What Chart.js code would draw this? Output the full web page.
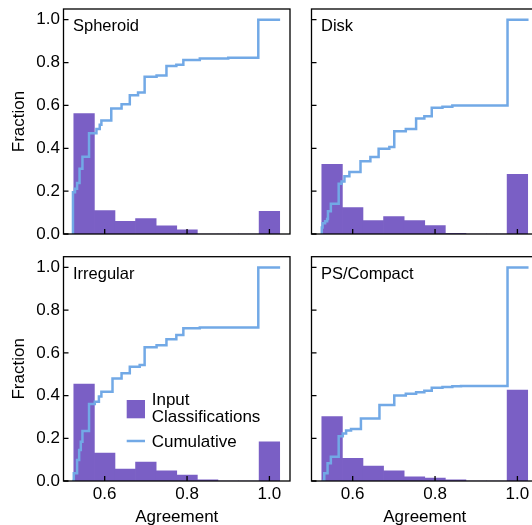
<!DOCTYPE html>
<html><head><meta charset="utf-8">
<script src="https://cdn.jsdelivr.net/npm/chart.js@4/dist/chart.umd.min.js"></script>
<style>
html,body{margin:0;padding:0;background:#fff;overflow:hidden;width:532px;height:525px;}
#wrap{position:relative;width:532px;height:525px;overflow:hidden;background:#fff;}
canvas{position:absolute;}
</style></head><body><div id="wrap">
<canvas id="c0"></canvas><canvas id="c1"></canvas><canvas id="c2"></canvas><canvas id="c3"></canvas>
</div>
<script>
// ---- data ----
const panelNames = ["Spheroid", "Disk", "Irregular", "PS/Compact"];
const binCenters = [0.55, 0.60, 0.65, 0.70, 0.75, 0.80, 0.85, 0.90, 0.95, 1.00];
const xTickValues = [0.6, 0.8, 1.0];
const yTickValues = [0.0, 0.2, 0.4, 0.6, 0.8, 1.0];
const legendLabels = [["Input", "Classifications"], ["Cumulative"]];

const spheroidHist  = [0.562, 0.109, 0.059, 0.072, 0.038, 0.019, 0, 0, 0, 0.106];
const diskHist      = [0.325, 0.123, 0.063, 0.081, 0.063, 0.039, 0.003, 0, 0, 0.278];
const irregularHist = [0.454, 0.131, 0.056, 0.089, 0.048, 0.028, 0.006, 0, 0, 0.183];
const compactHist   = [0.301, 0.106, 0.070, 0.048, 0.019, 0.014, 0.006, 0, 0, 0.426];

const spheroidCumX = [0.523,0.523,0.528,0.533,0.539,0.546,0.562,0.580,0.588,0.592,0.616,0.641,0.661,0.681,0.697,0.726,0.750,0.774,0.791,0.831,0.900,0.973,0.973,1.026];
const spheroidCumY = [0,0.195,0.211,0.238,0.305,0.360,0.470,0.490,0.510,0.530,0.586,0.606,0.648,0.660,0.734,0.740,0.784,0.790,0.812,0.819,0.822,0.825,1.0,1.0];

const diskCumX = [0.523,0.525,0.527,0.533,0.538,0.540,0.547,0.566,0.573,0.580,0.592,0.619,0.643,0.663,0.689,0.701,0.729,0.754,0.774,0.792,0.818,0.842,0.976,0.976,1.027];
const diskCumY = [0,0.030,0.050,0.060,0.070,0.106,0.141,0.234,0.245,0.269,0.289,0.339,0.359,0.398,0.406,0.480,0.490,0.539,0.550,0.589,0.594,0.600,0.600,1.0,1.0];

const irregularCumX = [0.521,0.525,0.533,0.538,0.542,0.546,0.562,0.576,0.586,0.592,0.619,0.641,0.661,0.685,0.697,0.726,0.750,0.774,0.791,0.831,0.973,0.973,1.026];
const irregularCumY = [0,0.036,0.098,0.145,0.184,0.234,0.360,0.371,0.395,0.418,0.480,0.504,0.535,0.543,0.626,0.635,0.663,0.683,0.715,0.719,0.722,1.0,1.0];

const compactCumX = [0.526,0.531,0.539,0.547,0.566,0.576,0.584,0.596,0.620,0.665,0.701,0.729,0.754,0.774,0.792,0.818,0.842,0.863,0.976,0.976,1.027];
const compactCumY = [0,0.036,0.083,0.114,0.210,0.222,0.236,0.243,0.293,0.356,0.400,0.408,0.415,0.422,0.437,0.440,0.443,0.445,0.445,1.0,1.0];

const histSeries = [spheroidHist, diskHist, irregularHist, compactHist];
const cumXSeries = [spheroidCumX, diskCumX, irregularCumX, compactCumX];
const cumYSeries = [spheroidCumY, diskCumY, irregularCumY, compactCumY];

// ---- style ----
const FONT = '"Liberation Sans", Arial, Helvetica, sans-serif';
const FS = 17;
const BAR_COLOR = '#7A5FC5';
const LINE_COLOR = '#72A9E6';

const layouts = [
  {left:0,   top:0,   w:295, h:245, padTop:9,    padRight:5, yW:63.5, xH:11, showX:false, showY:true,  legend:false},
  {left:295, top:0,   w:250, h:245, padTop:9,    padRight:7, yW:16.5, xH:11, showX:false, showY:false, legend:false},
  {left:0,   top:245, w:295, h:292, padTop:11.7, padRight:5, yW:63.5, xH:56, showX:true,  showY:true,  legend:true},
  {left:295, top:245, w:250, h:292, padTop:11.7, padRight:7, yW:16.5, xH:56, showX:true,  showY:false, legend:false},
];

const framePlugin = {
  id: 'frame',
  afterDatasetsDraw(chart, args, opts) {
    const {ctx, chartArea: a} = chart;
    const xs = chart.scales.x, ys = chart.scales.y;
    ctx.save();
    ctx.strokeStyle = '#000';
    ctx.lineWidth = 1.3;
    ctx.strokeRect(a.left, a.top, a.right - a.left, a.bottom - a.top);
    ctx.beginPath();
    xs.ticks.forEach(t => { const p = xs.getPixelForValue(t.value); ctx.moveTo(p, a.bottom); ctx.lineTo(p, a.bottom - 5); });
    ys.ticks.forEach(t => { const p = ys.getPixelForValue(t.value); ctx.moveTo(a.left, p); ctx.lineTo(a.left + 5, p); });
    ctx.stroke();
    ctx.fillStyle = '#000';
    ctx.font = '16.5px ' + FONT;
    ctx.textAlign = 'left';
    ctx.textBaseline = 'alphabetic';
    ctx.fillText(opts.label, a.left + 9.5, a.top + 22);
    if (opts.legend) {
      ctx.font = FS + 'px ' + FONT;
      const lx = a.left + 63.2, ty = a.top;
      const ds = chart.data.datasets;
      const barDs = ds.find(d => d.type === 'bar');
      const lineDs = ds.find(d => d.type === 'line');
      ctx.fillStyle = barDs.backgroundColor;
      ctx.fillRect(lx, ty + 143.3, 18.3, 18.3);
      ctx.fillStyle = '#000';
      barDs.label.forEach((s, i) => ctx.fillText(s, lx + 25, ty + 148.5 + i * 16.7));
      ctx.strokeStyle = lineDs.borderColor;
      ctx.lineWidth = 2.5;
      ctx.beginPath(); ctx.moveTo(lx, ty + 184.3); ctx.lineTo(lx + 18.3, ty + 184.3); ctx.stroke();
      lineDs.label.forEach((s, i) => ctx.fillText(s, lx + 25, ty + 190.2 + i * 16.7));
    }
    ctx.restore();
  }
};

layouts.forEach((L, i) => {
  const cv = document.getElementById('c' + i);
  cv.width = L.w; cv.height = L.h;
  cv.style.left = L.left + 'px'; cv.style.top = L.top + 'px';
  cv.style.width = L.w + 'px'; cv.style.height = L.h + 'px';
  const barData = binCenters.map((x, k) => ({x: x, y: histSeries[i][k]}));
  const lineData = cumXSeries[i].map((x, k) => ({x: x, y: cumYSeries[i][k]}));
  new Chart(cv, {
    type: 'bar',
    data: {
      datasets: [
        {type: 'line', label: legendLabels[1], data: lineData, borderColor: LINE_COLOR, borderWidth: 2.5,
         pointRadius: 0, fill: false, stepped: 'before', tension: 0, borderJoinStyle: 'miter', order: 0},
        {type: 'bar', label: legendLabels[0], data: barData, backgroundColor: BAR_COLOR, borderWidth: 0,
         barPercentage: 1.0, categoryPercentage: 1.0, order: 1}
      ]
    },
    options: {
      responsive: false, animation: false, events: [],
      devicePixelRatio: 1,
      layout: {padding: {top: L.padTop, right: L.padRight, left: 0, bottom: 0}},
      plugins: {legend: {display: false}, tooltip: {enabled: false},
        frame: {label: panelNames[i], legend: L.legend}},
      scales: {
        x: {
          type: 'linear', min: 0.5, max: 1.05, offset: false,
          afterBuildTicks: s => { s.ticks = xTickValues.map(v => ({value: v})); },
          afterFit: s => { s.height = L.xH; s.paddingLeft = 0; s.paddingRight = 0; },
          grid: {display: false, drawTicks: false}, border: {display: false},
          ticks: {display: L.showX, padding: 3.6, maxRotation: 0, autoSkip: false, color: '#000',
                  font: {family: FONT, size: FS}, callback: v => Number(v).toFixed(1)},
          title: {display: L.showX, text: 'Agreement', color: '#000', font: {family: FONT, size: FS},
                  padding: {top: 0, bottom: 9.3}}
        },
        y: {
          type: 'linear', min: 0, max: 1.05,
          afterBuildTicks: s => { s.ticks = yTickValues.map(v => ({value: v})); },
          afterFit: s => { s.width = L.yW; s.paddingTop = 0; s.paddingBottom = 0; },
          grid: {display: false, drawTicks: false}, border: {display: false},
          ticks: {display: L.showY, padding: 3.5, color: '#000',
                  font: {family: FONT, size: FS}, callback: v => Number(v).toFixed(1)},
          title: {display: L.showY, text: 'Fraction', color: '#000', font: {family: FONT, size: FS},
                  padding: {top: 8.8, bottom: 0}}
        }
      }
    },
    plugins: [framePlugin]
  });
});
</script>
</body></html>
